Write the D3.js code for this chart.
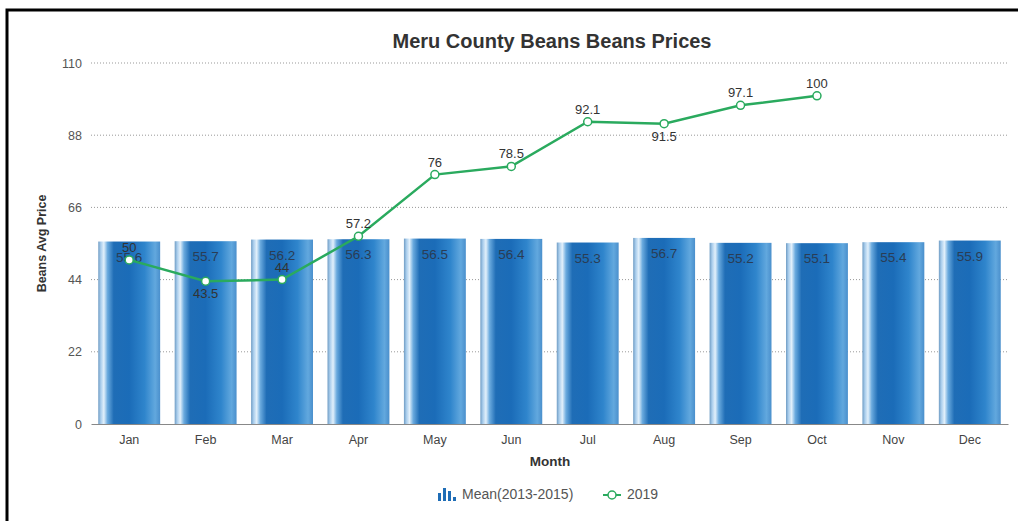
<!DOCTYPE html>
<html><head><meta charset="utf-8">
<script src="https://cdn.jsdelivr.net/npm/d3@7"></script>
<style>
body{margin:0;background:#fff;}
svg{display:block;font-family:"Liberation Sans",Arial,sans-serif;}
</style></head>
<body>
<svg id="c" width="1018" height="521"></svg>
<script>
const months = ["Jan","Feb","Mar","Apr","May","Jun","Jul","Aug","Sep","Oct","Nov","Dec"];
const meanValues = [55.6,55.7,56.2,56.3,56.5,56.4,55.3,56.7,55.2,55.1,55.4,55.9];
const values2019 = [50,43.5,44,57.2,76,78.5,92.1,91.5,97.1,100,null,null];
const yTicks = [0,22,44,66,88,110];
const labelBelow2019 = ["Feb","Aug"];

const svg = d3.select("#c");
const m = {l:91, r:1008, t:63, b:424};
const x = d3.scaleBand().domain(months).range([m.l,m.r]).paddingInner(0.19).paddingOuter(0.095);
const y = d3.scaleLinear().domain([0,110]).range([m.b,m.t]);

// border
svg.append("path").attr("d","M7,521 L7,10 L1018,10").attr("fill","none").attr("stroke","#000").attr("stroke-width",3);

// gradient
const defs = svg.append("defs");
const g = defs.append("linearGradient").attr("id","barg").attr("x1","0").attr("x2","1").attr("y1","0").attr("y2","0");
[[0,"#6f9cc4"],[0.04,"#a9cdec"],[0.09,"#e2f0fb"],[0.15,"#6aaade"],[0.25,"#1f6db6"],[0.5,"#1b6cb8"],[0.75,"#2f85cc"],[0.92,"#62a8de"],[1,"#4a8fcc"]]
  .forEach(([o,c])=>g.append("stop").attr("offset",o).attr("stop-color",c));

// gridlines
svg.append("g").selectAll("line").data(yTicks.filter(d=>d>0)).join("line")
  .attr("x1",m.l).attr("x2",m.r).attr("y1",d=>y(d)).attr("y2",d=>y(d))
  .attr("stroke","#999").attr("stroke-width",1).attr("stroke-dasharray","1,2");

// y axis
const ya = svg.append("g").attr("transform",`translate(${m.l},0)`)
  .call(d3.axisLeft(y).tickValues(yTicks).tickSize(0).tickPadding(9));
ya.select(".domain").remove();
ya.selectAll("text").attr("font-size",12.5).attr("fill","#555").attr("font-family","Liberation Sans, Arial, sans-serif");

// bars
svg.append("g").selectAll("rect").data(months).join("rect")
  .attr("x",d=>x(d)).attr("width",x.bandwidth())
  .attr("y",(d,i)=>y(meanValues[i])).attr("height",(d,i)=>y(0)-y(meanValues[i]))
  .attr("fill","url(#barg)");

// bar labels
svg.append("g").selectAll("text").data(months).join("text")
  .attr("x",d=>x(d)+x.bandwidth()/2).attr("y",(d,i)=>y(meanValues[i])+20)
  .attr("text-anchor","middle").attr("font-size",13.5).attr("fill","#2a3d55")
  .text((d,i)=>meanValues[i]);

// x axis
const xa = svg.append("g").attr("transform",`translate(0,${m.b})`)
  .call(d3.axisBottom(x).tickSize(0).tickPadding(11));
xa.select(".domain").attr("stroke","#888");
xa.selectAll("text").attr("font-size",12.5).attr("fill","#444").attr("font-family","Liberation Sans, Arial, sans-serif");

// line
const pts = months.map((d,i)=>({m:d,v:values2019[i]})).filter(p=>p.v!=null);
const line = d3.line().x(p=>x(p.m)+x.bandwidth()/2).y(p=>y(p.v));
svg.append("path").datum(pts).attr("d",line).attr("fill","none").attr("stroke","#2aaa5e").attr("stroke-width",2.5);
svg.append("g").selectAll("circle").data(pts).join("circle")
  .attr("cx",p=>x(p.m)+x.bandwidth()/2).attr("cy",p=>y(p.v)).attr("r",4)
  .attr("fill","#fff").attr("stroke","#2aaa5e").attr("stroke-width",1.5);
svg.append("g").selectAll("text").data(pts).join("text")
  .attr("x",p=>x(p.m)+x.bandwidth()/2)
  .attr("y",p=>labelBelow2019.includes(p.m)? y(p.v)+17 : y(p.v)-8)
  .attr("text-anchor","middle").attr("font-size",13).attr("fill","#333")
  .text(p=>p.v);

// title
svg.append("text").attr("x",552).attr("y",48).attr("text-anchor","middle")
  .attr("font-size",20).attr("font-weight","bold").attr("fill","#333").text("Meru County Beans Beans Prices");
// axis titles
svg.append("text").attr("transform",`translate(46,${(m.t+m.b)/2}) rotate(-90)`).attr("text-anchor","middle")
  .attr("font-size",12.5).attr("font-weight","bold").attr("fill","#333").text("Beans Avg Price");
svg.append("text").attr("x",550).attr("y",466).attr("text-anchor","middle")
  .attr("font-size",13.5).attr("font-weight","bold").attr("fill","#333").text("Month");

// legend
const lg = svg.append("g");
const bi = lg.append("g").attr("fill","#1f6db6");
[[438,493,3,8],[443,488,3,13],[448,491,3,10],[453,497,3,4]].forEach(([a,b,w,h])=>bi.append("rect").attr("x",a).attr("y",b).attr("width",w).attr("height",h));
lg.append("text").attr("x",462).attr("y",499).attr("font-size",14).attr("fill","#555").text("Mean(2013-2015)");
lg.append("line").attr("x1",603).attr("x2",621).attr("y1",495).attr("y2",495).attr("stroke","#2aaa5e").attr("stroke-width",2);
lg.append("circle").attr("cx",612).attr("cy",495).attr("r",4).attr("fill","#fff").attr("stroke","#2aaa5e").attr("stroke-width",1.5);
lg.append("text").attr("x",627).attr("y",499).attr("font-size",14).attr("fill","#555").text("2019");
</script>
</body></html>
